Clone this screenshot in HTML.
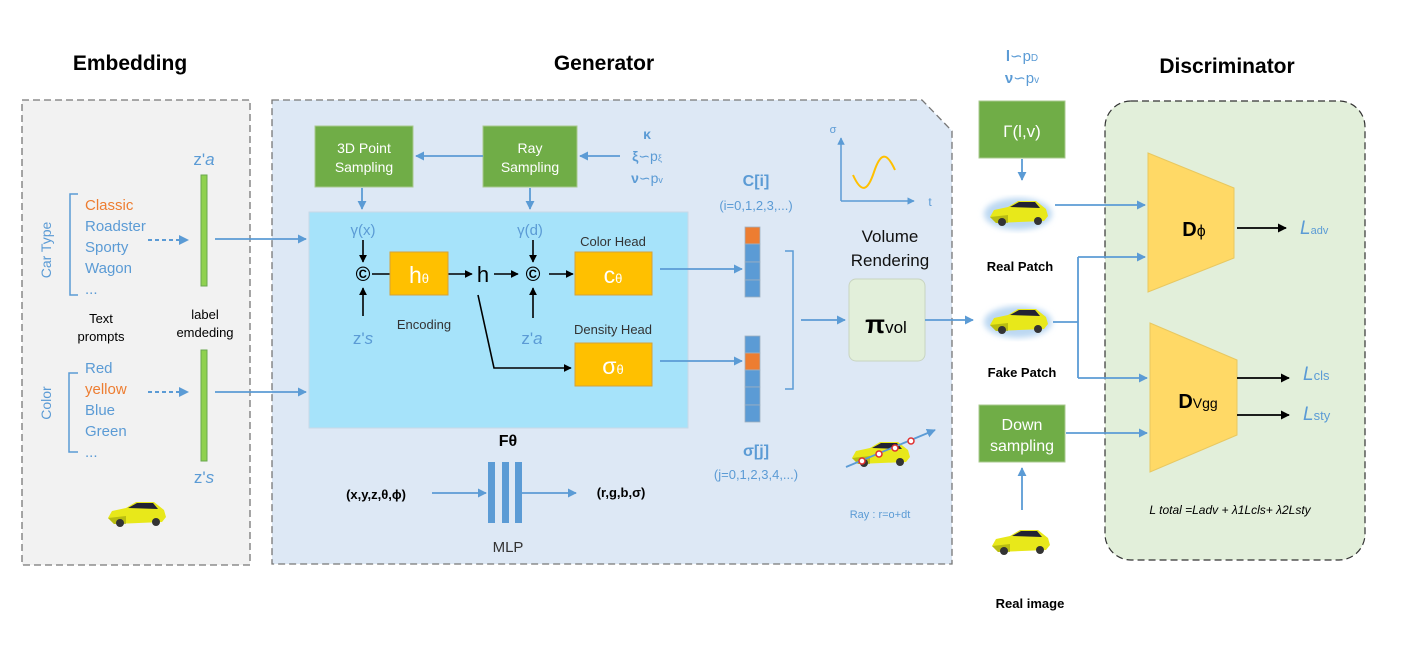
<!DOCTYPE html>
<html><head><meta charset="utf-8"><style>
body{margin:0;background:#fff}
svg{display:block}
text{font-family:"Liberation Sans","DejaVu Sans",sans-serif}
</style></head><body>
<svg width="1416" height="645" viewBox="0 0 1416 645" xmlns="http://www.w3.org/2000/svg">
<defs>
<marker id="ab" viewBox="0 0 10 10" refX="9" refY="5" markerWidth="5" markerHeight="5" orient="auto"><path d="M0,0L10,5L0,10z" fill="#5b9bd5"/></marker>
<marker id="ak" viewBox="0 0 10 10" refX="9" refY="5" markerWidth="5" markerHeight="5" orient="auto"><path d="M0,0L10,5L0,10z" fill="#000"/></marker>
<g id="car">
<path d="M2,18 L6,11 L20,8 L30,2 L48,2 L58,10 L60,17 L56,22 L8,24 Z" fill="#e8e81a"/>
<path d="M22,8 L31,3 L47,3 L52,9 Z" fill="#223"/>
<path d="M2,18 L20,16 L20,24 L8,24 Z" fill="#9aa00e" opacity="0.6"/>
<circle cx="14" cy="23" r="4" fill="#333"/><circle cx="50" cy="22" r="4" fill="#333"/>
</g>
<filter id="glow"><feGaussianBlur stdDeviation="3"/></filter>
</defs>

<!-- Titles -->
<text x="130" y="70" font-size="21" font-weight="bold" text-anchor="middle">Embedding</text>
<text x="604" y="70" font-size="21" font-weight="bold" text-anchor="middle">Generator</text>
<text x="1227" y="73" font-size="21" font-weight="bold" text-anchor="middle">Discriminator</text>

<!-- Embedding panel -->
<rect x="22" y="100" width="228" height="465" fill="#f2f2f2" stroke="#777" stroke-dasharray="7,4" stroke-width="1.3"/>
<text x="51" y="250" font-size="14" fill="#5b9bd5" text-anchor="middle" transform="rotate(-90 51 250)">Car Type</text>
<text x="51" y="403" font-size="14" fill="#5b9bd5" text-anchor="middle" transform="rotate(-90 51 403)">Color</text>
<path d="M78,194 H70 V295 H78" fill="none" stroke="#5b9bd5" stroke-width="1.5"/>
<path d="M78,373 H69 V452 H78" fill="none" stroke="#5b9bd5" stroke-width="1.5"/>
<g font-size="15" fill="#5b9bd5">
<text x="85" y="210" fill="#ed7d31">Classic</text>
<text x="85" y="231">Roadster</text>
<text x="85" y="252">Sporty</text>
<text x="85" y="273">Wagon</text>
<text x="85" y="294">...</text>
<text x="85" y="373">Red</text>
<text x="85" y="394" fill="#ed7d31">yellow</text>
<text x="85" y="415">Blue</text>
<text x="85" y="436">Green</text>
<text x="85" y="457">...</text>
</g>
<line x1="148" y1="240" x2="188" y2="240" stroke="#5b9bd5" stroke-width="2" stroke-dasharray="4,3" marker-end="url(#ab)"/>
<line x1="148" y1="392" x2="188" y2="392" stroke="#5b9bd5" stroke-width="2" stroke-dasharray="4,3" marker-end="url(#ab)"/>
<rect x="201" y="175" width="6" height="111" fill="#8fd14f" stroke="#6aa84f"/>
<rect x="201" y="350" width="6" height="111" fill="#8fd14f" stroke="#6aa84f"/>
<text x="204" y="165" font-size="17" fill="#5b9bd5" text-anchor="middle">z'<tspan font-style="italic">a</tspan></text>
<text x="204" y="483" font-size="17" fill="#5b9bd5" text-anchor="middle">z'<tspan font-style="italic">s</tspan></text>
<text x="101" y="323" font-size="13" text-anchor="middle">Text</text>
<text x="101" y="341" font-size="13" text-anchor="middle">prompts</text>
<text x="205" y="319" font-size="13" text-anchor="middle">label</text>
<text x="205" y="337" font-size="13" text-anchor="middle">emdeding</text>
<use href="#car" x="106" y="500"/>

<!-- Generator panel -->
<path d="M272,100 H922 L952,131 V564 H272 Z" fill="#dde8f5" stroke="#777" stroke-dasharray="7,4" stroke-width="1.3"/>
<line x1="215" y1="239" x2="306" y2="239" stroke="#5b9bd5" stroke-width="1.8" marker-end="url(#ab)"/>
<line x1="215" y1="392" x2="306" y2="392" stroke="#5b9bd5" stroke-width="1.8" marker-end="url(#ab)"/>

<rect x="315" y="126" width="98" height="61" fill="#70ad47" stroke="#a9c98f"/>
<text x="364" y="153" font-size="14" fill="#fff" text-anchor="middle">3D Point</text>
<text x="364" y="172" font-size="14" fill="#fff" text-anchor="middle">Sampling</text>
<rect x="483" y="126" width="94" height="61" fill="#70ad47" stroke="#a9c98f"/>
<text x="530" y="153" font-size="14" fill="#fff" text-anchor="middle">Ray</text>
<text x="530" y="172" font-size="14" fill="#fff" text-anchor="middle">Sampling</text>
<line x1="483" y1="156" x2="416" y2="156" stroke="#5b9bd5" stroke-width="1.8" marker-end="url(#ab)"/>
<line x1="620" y1="156" x2="580" y2="156" stroke="#5b9bd5" stroke-width="1.8" marker-end="url(#ab)"/>
<text x="647" y="139" font-size="14" fill="#5b9bd5" font-weight="bold" text-anchor="middle">κ</text>
<text x="647" y="161" font-size="14" fill="#5b9bd5" text-anchor="middle"><tspan font-weight="bold">ξ</tspan>∽p<tspan font-size="9">ξ</tspan></text>
<text x="647" y="183" font-size="14" fill="#5b9bd5" text-anchor="middle"><tspan font-weight="bold">ν</tspan>∽p<tspan font-size="9">v</tspan></text>
<line x1="362" y1="188" x2="362" y2="209" stroke="#5b9bd5" stroke-width="1.8" marker-end="url(#ab)"/>
<line x1="530" y1="188" x2="530" y2="209" stroke="#5b9bd5" stroke-width="1.8" marker-end="url(#ab)"/>

<rect x="309" y="212" width="379" height="216" fill="#a6e3fa" stroke="#c8d8e8"/>
<text x="363" y="235" font-size="15" fill="#5b9bd5" text-anchor="middle">γ(x)</text>
<text x="530" y="235" font-size="15" fill="#5b9bd5" text-anchor="middle">γ(d)</text>
<text x="363" y="344" font-size="17" fill="#5b9bd5" text-anchor="middle">z'<tspan font-style="italic">s</tspan></text>
<text x="532" y="344" font-size="17" fill="#5b9bd5" text-anchor="middle">z'<tspan font-style="italic">a</tspan></text>
<g stroke="#000" stroke-width="1.6" fill="none">
<line x1="363" y1="240" x2="363" y2="262" marker-end="url(#ak)"/>
<line x1="363" y1="316" x2="363" y2="288" marker-end="url(#ak)"/>
<line x1="533" y1="240" x2="533" y2="262" marker-end="url(#ak)"/>
<line x1="533" y1="318" x2="533" y2="288" marker-end="url(#ak)"/>
<line x1="372" y1="274" x2="390" y2="274"/>
<line x1="448" y1="274" x2="472" y2="274" marker-end="url(#ak)"/>
<line x1="494" y1="274" x2="518" y2="274" marker-end="url(#ak)"/>
<line x1="549" y1="274" x2="573" y2="274" marker-end="url(#ak)"/>
<polyline points="478,295 494,368 571,368" marker-end="url(#ak)"/>
</g>
<text x="363" y="281" font-size="20" font-weight="bold" text-anchor="middle">©</text>
<text x="533" y="281" font-size="20" font-weight="bold" text-anchor="middle">©</text>
<text x="483" y="282" font-size="22" text-anchor="middle">h</text>
<rect x="390" y="252" width="58" height="43" fill="#ffc000" stroke="#d4a23a"/>
<text x="419" y="283" font-size="23" fill="#fff" text-anchor="middle">h<tspan font-size="13">θ</tspan></text>
<rect x="575" y="252" width="77" height="43" fill="#ffc000" stroke="#d4a23a"/>
<text x="613" y="283" font-size="23" fill="#fff" text-anchor="middle">c<tspan font-size="13">θ</tspan></text>
<rect x="575" y="343" width="77" height="43" fill="#ffc000" stroke="#d4a23a"/>
<text x="613" y="374" font-size="23" fill="#fff" text-anchor="middle">σ<tspan font-size="13">θ</tspan></text>
<text x="613" y="246" font-size="13" fill="#333" text-anchor="middle">Color Head</text>
<text x="613" y="334" font-size="13" fill="#333" text-anchor="middle">Density Head</text>
<text x="424" y="329" font-size="13" fill="#333" text-anchor="middle">Encoding</text>

<line x1="660" y1="269" x2="742" y2="269" stroke="#5b9bd5" stroke-width="1.8" marker-end="url(#ab)"/>
<line x1="660" y1="361" x2="742" y2="361" stroke="#5b9bd5" stroke-width="1.8" marker-end="url(#ab)"/>
<g stroke="#a0b0c0" stroke-width="0.8">
<rect x="745" y="227" width="15" height="17" fill="#ed7d31"/>
<rect x="745" y="244" width="15" height="18" fill="#5b9bd5"/>
<rect x="745" y="262" width="15" height="18" fill="#5b9bd5"/>
<rect x="745" y="280" width="15" height="17" fill="#5b9bd5"/>
<rect x="745" y="336" width="15" height="17" fill="#5b9bd5"/>
<rect x="745" y="353" width="15" height="17" fill="#ed7d31"/>
<rect x="745" y="370" width="15" height="17" fill="#5b9bd5"/>
<rect x="745" y="387" width="15" height="18" fill="#5b9bd5"/>
<rect x="745" y="405" width="15" height="17" fill="#5b9bd5"/>
</g>
<text x="756" y="186" font-size="16" font-weight="bold" fill="#5b9bd5" text-anchor="middle">C[i]</text>
<text x="756" y="210" font-size="13" fill="#5b9bd5" text-anchor="middle">(i=0,1,2,3,...)</text>
<text x="756" y="456" font-size="16" font-weight="bold" fill="#5b9bd5" text-anchor="middle">σ[j]</text>
<text x="756" y="479" font-size="13" fill="#5b9bd5" text-anchor="middle">(j=0,1,2,3,4,...)</text>
<path d="M785,251 H793 V389 H785" fill="none" stroke="#5b9bd5" stroke-width="1.5"/>
<line x1="801" y1="320" x2="845" y2="320" stroke="#5b9bd5" stroke-width="1.8" marker-end="url(#ab)"/>
<text x="890" y="242" font-size="17" fill="#111" text-anchor="middle">Volume</text>
<text x="890" y="266" font-size="17" fill="#111" text-anchor="middle">Rendering</text>
<rect x="849" y="279" width="76" height="82" rx="7" fill="#e2efda" stroke="#c8d4c0"/>
<text x="886" y="333" font-size="26" font-weight="bold" text-anchor="middle">π<tspan font-size="17" font-weight="normal">vol</tspan></text>
<line x1="925" y1="320" x2="973" y2="320" stroke="#5b9bd5" stroke-width="1.8" marker-end="url(#ab)"/>

<!-- sigma plot -->
<line x1="841" y1="201" x2="841" y2="138" stroke="#5b9bd5" stroke-width="1.5" marker-end="url(#ab)"/>
<line x1="841" y1="201" x2="914" y2="201" stroke="#5b9bd5" stroke-width="1.5" marker-end="url(#ab)"/>
<text x="833" y="133" font-size="11" fill="#5b9bd5" text-anchor="middle">σ</text>
<text x="930" y="206" font-size="12" fill="#5b9bd5" text-anchor="middle">t</text>
<path d="M853,175 C862,195 868,190 874,172 C880,154 886,150 895,170" fill="none" stroke="#ffc000" stroke-width="2"/>

<use href="#car" x="850" y="440" transform="translate(0,0)"/>
<line x1="846" y1="467" x2="935" y2="430" stroke="#5b9bd5" stroke-width="1.8" marker-end="url(#ab)"/>
<g fill="#fff" stroke="#e03030" stroke-width="1.5"><circle cx="862" cy="461" r="3"/><circle cx="879" cy="454" r="3"/><circle cx="895" cy="448" r="3"/><circle cx="911" cy="441" r="3"/></g>
<text x="880" y="518" font-size="11" fill="#5b9bd5" text-anchor="middle">Ray :  r=o+dt</text>

<!-- MLP -->
<text x="508" y="446" font-size="16" font-weight="bold" text-anchor="middle">Fθ</text>
<rect x="488" y="462" width="7" height="61" fill="#5b9bd5"/>
<rect x="502" y="462" width="7" height="61" fill="#5b9bd5"/>
<rect x="515" y="462" width="7" height="61" fill="#5b9bd5"/>
<line x1="432" y1="493" x2="486" y2="493" stroke="#5b9bd5" stroke-width="1.8" marker-end="url(#ab)"/>
<line x1="522" y1="493" x2="576" y2="493" stroke="#5b9bd5" stroke-width="1.8" marker-end="url(#ab)"/>
<text x="376" y="499" font-size="13" font-weight="bold" text-anchor="middle">(x,y,z,θ,ϕ)</text>
<text x="621" y="497" font-size="13" font-weight="bold" text-anchor="middle">(r,g,b,σ)</text>
<text x="508" y="552" font-size="15" fill="#333" text-anchor="middle">MLP</text>

<!-- Middle column -->
<text x="1022" y="61" font-size="15" fill="#5b9bd5" text-anchor="middle"><tspan font-weight="bold">l</tspan>∽p<tspan font-size="10">D</tspan></text>
<text x="1022" y="83" font-size="15" fill="#5b9bd5" text-anchor="middle"><tspan font-weight="bold">ν</tspan>∽p<tspan font-size="10">v</tspan></text>
<rect x="979" y="101" width="86" height="57" fill="#70ad47" stroke="#a9c98f"/>
<text x="1022" y="137" font-size="17" fill="#fff" text-anchor="middle">Γ(l,v)</text>
<line x1="1022" y1="159" x2="1022" y2="180" stroke="#5b9bd5" stroke-width="1.8" marker-end="url(#ab)"/>
<ellipse cx="1018" cy="214" rx="34" ry="16" fill="#bcd8f2" filter="url(#glow)"/>
<use href="#car" x="988" y="199"/>
<text x="1020" y="271" font-size="13" font-weight="bold" text-anchor="middle">Real Patch</text>
<ellipse cx="1018" cy="322" rx="34" ry="16" fill="#bcd8f2" filter="url(#glow)"/>
<use href="#car" x="988" y="307"/>
<text x="1022" y="377" font-size="13" font-weight="bold" text-anchor="middle">Fake Patch</text>
<rect x="979" y="405" width="86" height="57" fill="#70ad47" stroke="#a9c98f"/>
<text x="1022" y="430" font-size="16" fill="#fff" text-anchor="middle">Down</text>
<text x="1022" y="451" font-size="16" fill="#fff" text-anchor="middle">sampling</text>
<line x1="1022" y1="510" x2="1022" y2="468" stroke="#5b9bd5" stroke-width="1.8" marker-end="url(#ab)"/>
<use href="#car" x="990" y="528"/>
<text x="1030" y="608" font-size="13" font-weight="bold" text-anchor="middle">Real image</text>

<!-- Discriminator -->
<rect x="1105" y="101" width="260" height="459" rx="26" fill="#e2efda" stroke="#333" stroke-dasharray="7,4" stroke-width="1.2"/>
<polygon points="1148,153 1234,188 1234,258 1148,292" fill="#ffd966" stroke="#e8c860"/>
<polygon points="1150,323 1237,360 1237,435 1150,472" fill="#ffd966" stroke="#e8c860"/>
<text x="1194" y="236" font-size="20" font-weight="bold" text-anchor="middle">D<tspan font-size="16" font-weight="normal">ϕ</tspan></text>
<text x="1198" y="408" font-size="20" font-weight="bold" text-anchor="middle">D<tspan font-size="14" font-weight="normal">Vgg</tspan></text>
<line x1="1055" y1="205" x2="1145" y2="205" stroke="#5b9bd5" stroke-width="1.8" marker-end="url(#ab)"/>
<line x1="1053" y1="322" x2="1078" y2="322" stroke="#5b9bd5" stroke-width="1.8"/>
<polyline points="1078,257 1078,378" fill="none" stroke="#5b9bd5" stroke-width="1.8"/>
<line x1="1078" y1="257" x2="1145" y2="257" stroke="#5b9bd5" stroke-width="1.8" marker-end="url(#ab)"/>
<line x1="1078" y1="378" x2="1147" y2="378" stroke="#5b9bd5" stroke-width="1.8" marker-end="url(#ab)"/>
<line x1="1066" y1="433" x2="1147" y2="433" stroke="#5b9bd5" stroke-width="1.8" marker-end="url(#ab)"/>
<line x1="1237" y1="228" x2="1286" y2="228" stroke="#000" stroke-width="1.8" marker-end="url(#ak)"/>
<line x1="1237" y1="378" x2="1289" y2="378" stroke="#000" stroke-width="1.8" marker-end="url(#ak)"/>
<line x1="1237" y1="415" x2="1289" y2="415" stroke="#000" stroke-width="1.8" marker-end="url(#ak)"/>
<g fill="#5b9bd5" font-family="Liberation Serif,serif">
<text x="1300" y="234" font-size="19" font-style="italic">L<tspan font-size="11" font-family="Liberation Sans,sans-serif" font-style="normal">adv</tspan></text>
<text x="1303" y="380" font-size="19" font-style="italic">L<tspan font-size="13" font-family="Liberation Sans,sans-serif" font-style="normal">cls</tspan></text>
<text x="1303" y="420" font-size="19" font-style="italic">L<tspan font-size="13" font-family="Liberation Sans,sans-serif" font-style="normal">sty</tspan></text>
</g>
<text x="1230" y="514" font-size="12" font-style="italic" font-family="Liberation Serif,serif" text-anchor="middle">L total =Ladv + λ1Lcls+ λ2Lsty</text>
</svg>
</body></html>
